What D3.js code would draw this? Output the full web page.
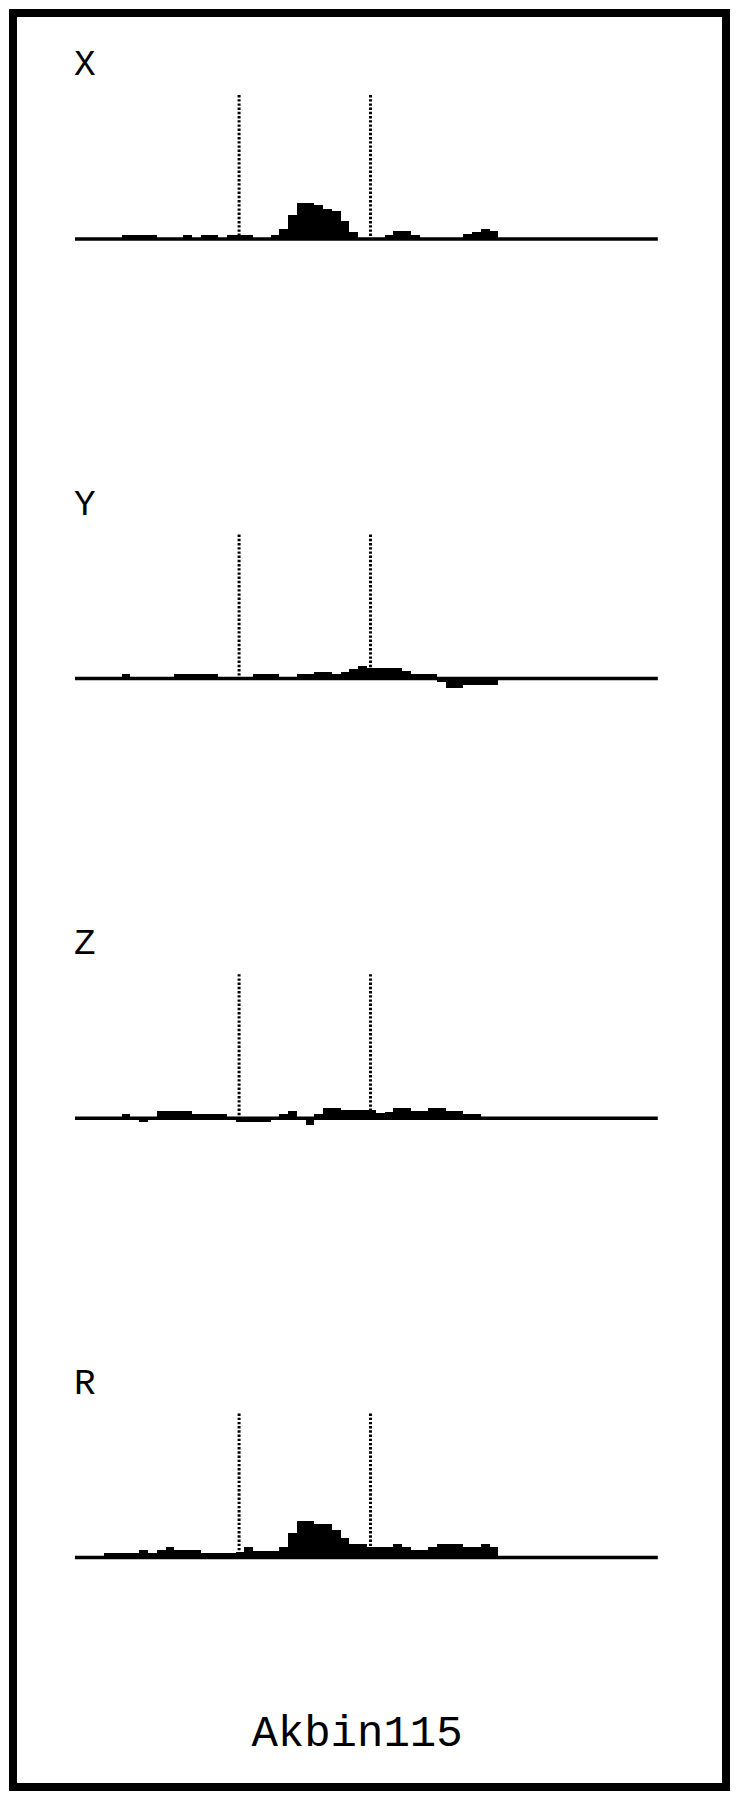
<!DOCTYPE html>
<html>
<head>
<meta charset="utf-8">
<script src="https://cdn.jsdelivr.net/npm/d3@7"></script>
<style>
  html, body { margin: 0; padding: 0; background: #fff; }
  svg { display: block; }
</style>
</head>
<body>
<div id="chart"></div>
<script>
// ---- data ----
const panelNames = ["X", "Y", "Z", "R"];
const binCount = 48;
const seriesX = [0,0,0,0,0, 4.5,4.5,4.5,4.5, 0,0,0, 4.5, 0, 4.5,4.5, 0, 4.5,4.5,4.5, 0.5,0.5, 4.5, 10, 24.5, 36.5,36.5, 34, 30.5, 28, 18, 7.5, 0,0,0, 4.5, 8,8, 4.5, 0,0,0,0,0, 4.7, 7.3, 10, 8];
const seriesY = [0,0,0,0,0, 4.4, 0,0,0,0,0, 4.4,4.4,4.4,4.4,4.4, 0,0,0,0, 4.4,4.4,4.4, 0,0, 4.4,4.4, 7,7, 5, 7, 10, 13, 10.5,10.5,10.5,10.5, 7.5, 5,5,5, -3.5, -9,-9, -6.75,-6.75,-6.75,-6.75];
const seriesZ = [0,0,0,0,0, 4.4, 0, -4, 0, 7.4,7.4,7.4,7.4, 4.4,4.4,4.4,4.4, 0.5, -4,-4,-4,-4, 0, 4.4, 7.4, 0, -7, 4.4, 10,10, 7.8,7.8,7.8,7.8, 5, 6.5, 10,10, 7.4,7.4, 10,10, 7.4,7.4, 4.4,4.4, 0,0];
const seriesR = [0,0,0, 4.7,4.7,4.7,4.7, 7.7, 4.7, 7.7, 10.3, 7.7,7.7,7.7, 4.7,4.7,4.7,4.7, 6, 10.3, 7,7,7, 10.3, 24.7, 36.3,36.3, 33.7,33.7, 27.7, 19.3, 13.7,13.7, 11,11,11, 13.7, 11, 8,8, 11, 13.7,13.7,13.7, 11,11, 13.7, 11];
const markerBins = [18.4, 33.4];
const baselineExtent = [-0.33, 66.2];
const footerLabel = "Akbin115";

const allSeries = [seriesX, seriesY, seriesZ, seriesR];

// ---- layout ----
const W = 739, H = 1800;
const svg = d3.select("#chart").append("svg").attr("width", W).attr("height", H);

svg.append("rect").attr("x", 13).attr("y", 13).attr("width", 713).attr("height", 1774)
  .attr("fill", "none").attr("stroke", "#000").attr("stroke-width", 8);

const x = d3.scaleLinear().domain([0, binCount]).range([77.9, 77.9 + binCount * 8.76]);
const baselines = [239, 678.6, 1118.2, 1557.5];

panelNames.forEach((name, p) => {
  const base = baselines[p];
  const y = d3.scaleLinear().domain([-20, 40]).range([base + 20, base - 40]);
  const g = svg.append("g");
  const data = allSeries[p].map((v, i) => ({ i, v }));

  g.append("text").attr("x", 74).attr("y", base - 164)
    .attr("font-family", "Liberation Mono").attr("font-size", 36).attr("fill", "#000")
    .text(name);

  markerBins.forEach(m => {
    g.append("line").attr("x1", x(m)).attr("x2", x(m))
      .attr("y1", base - 144).attr("y2", base - 3)
      .attr("stroke", "#000").attr("stroke-width", 3).attr("stroke-dasharray", "2.4,1.8");
  });

  g.selectAll("rect.bar").data(data.filter(d => d.v !== 0)).enter().append("rect")
    .attr("class", "bar")
    .attr("x", d => x(d.i)).attr("width", d => x(d.i + 1) - x(d.i))
    .attr("y", d => y(Math.max(d.v, 0))).attr("height", d => Math.abs(y(d.v) - y(0)))
    .attr("fill", "#000").attr("shape-rendering", "crispEdges");

  g.append("line").attr("x1", x(baselineExtent[0])).attr("x2", x(baselineExtent[1]))
    .attr("y1", y(0)).attr("y2", y(0)).attr("stroke", "#000").attr("stroke-width", 3.5);
});

svg.append("text").attr("x", 357).attr("y", 1746).attr("text-anchor", "middle")
  .attr("font-family", "Liberation Mono").attr("font-size", 44).attr("fill", "#000")
  .text(footerLabel);
</script>
</body>
</html>
